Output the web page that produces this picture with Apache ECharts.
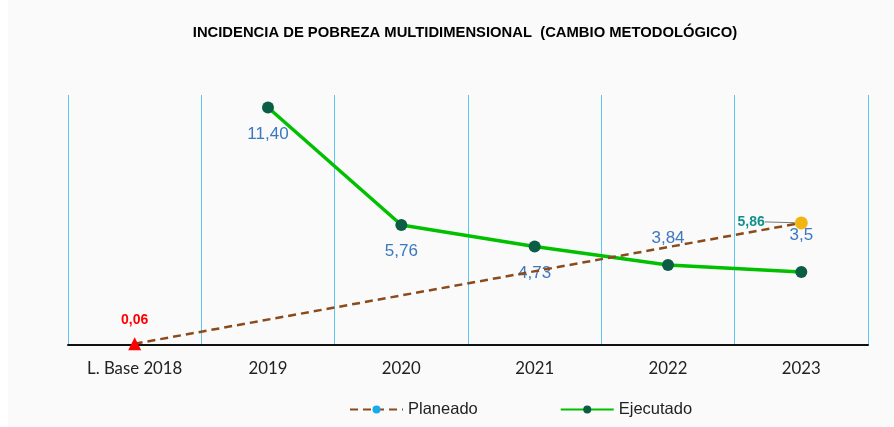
<!DOCTYPE html>
<html>
<head>
<meta charset="utf-8">
<script src="https://cdn.jsdelivr.net/npm/echarts@6/dist/echarts.min.js"></script>
<style>
  html, body { margin: 0; padding: 0; background: #ffffff; }
  #myChart { position: absolute; left: 8px; top: 0; width: 886px; height: 427px; }
</style>
</head>
<body>
<div id="myChart"></div>
<script>
  // categorias del eje x
  const categorias = ['L. Base 2018', '2019', '2020', '2021', '2022', '2023']
  // solo linea base y meta final, el resto sin dato
  const planeado = [0.06, null, null, null, null, 5.86]
  const ejecutado = [null, 11.40, 5.76, 4.73, 3.84, 3.5]
  const etiquetasEjecutado = ['', '11,40', '5,76', '4,73', '3,84', '3,5']
  const posEtiqueta = ['bottom', 'bottom', 'bottom', 'bottom', 'top', 'top']

  let myChart = echarts.init(document.getElementById('myChart'))

  const labelFont = 'Liberation Sans, Arial, sans-serif'

  myChart.setOption({
    backgroundColor: '#fafafa',
    animation: false,
    title: {
      text: 'INCIDENCIA DE POBREZA MULTIDIMENSIONAL  (CAMBIO METODOLÓGICO)',
      left: 452,
      textAlign: 'center',
      top: 20,
      textStyle: {
        fontFamily: labelFont,
        fontSize: 14.8,
        fontWeight: 'bold',
        color: '#000'
      }
    },
    legend: {
      bottom: 4,
      left: 336,
      itemWidth: 53,
      itemHeight: 10,
      itemGap: 82,
      textStyle: {
        fontFamily: labelFont,
        fontSize: 16.5,
        color: '#222'
      },
      data: [
        { name: 'Planeado', itemStyle: { color: '#1aa9ec' } },
        { name: 'Ejecutado', itemStyle: { color: '#0b5d45' } }
      ]
    },
    grid: {
      left: 60,
      right: 26,
      top: 95,
      bottom: 82
    },
    xAxis: {
      type: 'category',
      data: categorias,
      boundaryGap: true,
      axisLine: {
        show: true,
        lineStyle: { color: '#111', width: 2 }
      },
      axisTick: { show: false },
      axisLabel: {
        margin: 15,
        fontFamily: 'Lato, Open Sans, sans-serif',
        fontSize: 16.8,
        color: '#222'
      },
      splitLine: {
        show: true,
        lineStyle: { color: '#5cc6f2', width: 1 }
      }
    },
    yAxis: {
      type: 'value',
      min: 0,
      max: 12,
      interval: 2,
      axisLine: { show: false },
      axisTick: { show: false },
      axisLabel: { show: false },
      splitLine: { show: false }
    },
    series: [
      {
        name: 'Planeado',
        type: 'line',
        connectNulls: true,
        symbol: 'circle',
        symbolSize: 10,
        z: 3,
        lineStyle: {
          color: '#8b4a1c',
          width: 2.5,
          type: [8, 5]
        },
        itemStyle: { color: '#1aa9ec' },
        // mover la etiqueta 5,86 a la izquierda con linea guia
        labelLayout: (params) => {
          if (params.dataIndex === 5) return { dx: -24, dy: -1 }
          return {}
        },
        data: [
          {
            value: planeado[0],
            symbol: 'triangle',
            symbolSize: 13,
            itemStyle: { color: '#ff0000' },
            label: {
              show: true,
              position: 'top',
              distance: 10,
              formatter: '0,06',
              color: '#ff0000',
              fontWeight: 'bold',
              fontSize: 14,
              fontFamily: labelFont
            },
            labelLine: { show: false }
          },
          planeado[1], planeado[2], planeado[3], planeado[4],
          {
            value: planeado[5],
            symbol: 'circle',
            symbolSize: 13,
            itemStyle: { color: '#f2b411' },
            label: {
              show: true,
              position: 'left',
              distance: 6,
              formatter: '5,86',
              color: '#10918a',
              fontWeight: 'bold',
              fontSize: 14,
              fontFamily: labelFont
            },
            labelLine: {
              show: true,
              lineStyle: { color: '#777', width: 1 }
            }
          }
        ]
      },
      {
        name: 'Ejecutado',
        type: 'line',
        z: 2,
        symbol: 'circle',
        symbolSize: 12,
        lineStyle: { color: '#00c000', width: 3.5 },
        itemStyle: { color: '#0b5d45' },
        label: {
          show: true,
          fontFamily: labelFont,
          fontSize: 17,
          color: '#3b78c0',
          distance: 12
        },
        data: ejecutado.map((v, i) => {
          if (v === null) return null
          return {
            value: v,
            label: {
              position: posEtiqueta[i],
              formatter: etiquetasEjecutado[i],
              distance: i === 5 ? 22 : 12
            }
          }
        })
      }
    ]
  })

  window.addEventListener('resize', () => {
    myChart.resize()
  })
</script>
</body>
</html>
